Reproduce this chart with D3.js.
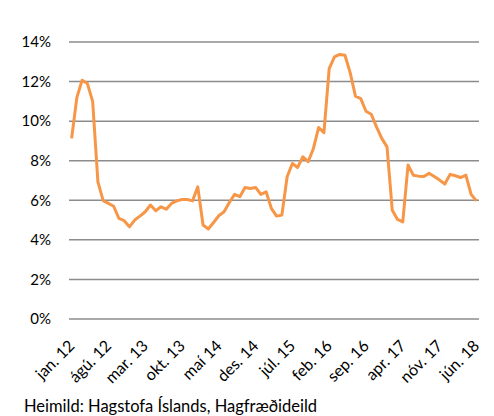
<!DOCTYPE html>
<html>
<head>
<meta charset="utf-8">
<script src="https://cdn.jsdelivr.net/npm/d3@7"></script>
<style>
  body { margin: 0; background: #fff; }
  text { font-family: Lato, "Open Sans", sans-serif; fill: #000; }
</style>
</head>
<body>
<div id="chart"></div>
<script>
// Data: monthly values jan. 12 - jún. 18 (%)
var months = ["jan.","feb.","mar.","apr.","maí","jún.","júl.","ágú.","sep.","okt.","nóv.","des."];
var categories = [];
for (var yr = 12; yr <= 18; yr++) {
  for (var m = 0; m < 12; m++) {
    if (yr === 18 && m > 5) break;
    categories.push(months[m] + " " + yr);
  }
}
var values = [
  9.13, 11.2, 12.07, 11.9, 11.0, 6.93, 5.98, 5.84, 5.7, 5.08, 4.97, 4.66,
  5.0, 5.2, 5.42, 5.76, 5.47, 5.67, 5.55, 5.84, 5.97, 6.04, 6.04, 5.97,
  6.68, 4.75, 4.55, 4.88, 5.22, 5.42, 5.89, 6.3, 6.18, 6.65, 6.6, 6.65,
  6.3, 6.43, 5.59, 5.2, 5.25, 7.19, 7.86, 7.66, 8.2, 7.95, 8.62, 9.68,
  9.42, 12.66, 13.25, 13.37, 13.33, 12.44, 11.26, 11.14, 10.5, 10.35, 9.71, 9.13,
  8.7, 5.5, 5.03, 4.91, 7.78, 7.27, 7.22, 7.2, 7.36, 7.2, 7.02, 6.82,
  7.31, 7.24, 7.15, 7.27, 6.3, 5.98
];
var yTicks = [0, 2, 4, 6, 8, 10, 12, 14];
var sourceText = "Heimild: Hagstofa Íslands, Hagfræðideild";

// Sizing
var svgWidth = 494;
var svgHeight = 416;
var margin = { top: 42, right: 15, bottom: 97, left: 69 };
var width = svgWidth - margin.left - margin.right;
var height = svgHeight - margin.top - margin.bottom;

var svg = d3.select("#chart")
  .append("svg")
  .attr("width", svgWidth)
  .attr("height", svgHeight);

var chartGroup = svg.append("g")
  .attr("transform", `translate(${margin.left}, ${margin.top})`);

// Scales
var xBand = d3.scaleBand()
  .domain(categories)
  .range([0, width]);
var x = d => xBand(d) + xBand.bandwidth() / 2;

var yLinearScale = d3.scaleLinear()
  .domain([0, 14])
  .range([height, 0]);

// Gridlines
chartGroup.append("g")
  .selectAll("line")
  .data(yTicks)
  .enter()
  .append("line")
  .attr("x1", 0)
  .attr("x2", width)
  .attr("y1", d => yLinearScale(d))
  .attr("y2", d => yLinearScale(d))
  .attr("stroke", "#8c8c8c")
  .attr("stroke-width", 1.5);

// Y labels
chartGroup.append("g")
  .selectAll("text")
  .data(yTicks)
  .enter()
  .append("text")
  .attr("x", -18)
  .attr("y", d => yLinearScale(d))
  .attr("dy", "0.35em")
  .attr("text-anchor", "end")
  .attr("font-size", 15)
  .text(d => d + "%");

// X labels, every 7th month
var xLabels = categories.filter((d, i) => i % 7 === 0);
chartGroup.append("g")
  .selectAll("text")
  .data(xLabels)
  .enter()
  .append("text")
  .attr("transform", d => `translate(${x(d)}, ${height + 24}) rotate(-45)`)
  .attr("text-anchor", "end")
  .attr("dy", "0.35em")
  .attr("font-size", 16)
  .text(d => d);

// Line
var line = d3.line()
  .x((d, i) => x(categories[i]))
  .y(d => yLinearScale(d));

chartGroup.append("path")
  .datum(values)
  .attr("d", line)
  .attr("fill", "none")
  .attr("stroke", "#f79646")
  .attr("stroke-width", 3)
  .attr("stroke-linejoin", "round");

// Source
svg.append("text")
  .attr("x", 24)
  .attr("y", 412)
  .attr("font-size", 16.5)
  .text(sourceText);
</script>
</body>
</html>
